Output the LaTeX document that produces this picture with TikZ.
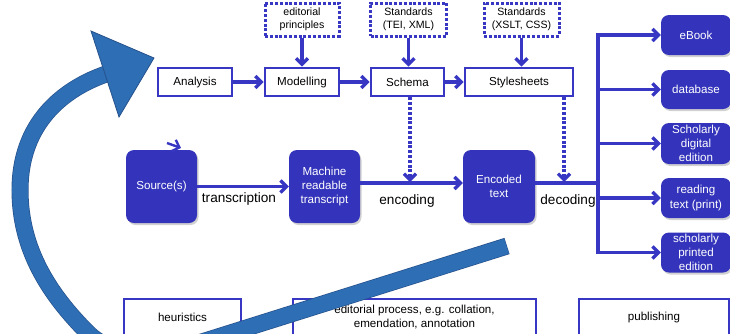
\documentclass[tikz,border=0pt]{standalone}
\usepackage{fontspec}
\setmainfont{Liberation Sans}
\usetikzlibrary{arrows.meta,shadows}
\definecolor{boxblue}{RGB}{51,51,187}
\definecolor{lineblue}{RGB}{55,55,195}
\definecolor{bigblue}{RGB}{46,110,181}
\definecolor{bigedge}{RGB}{38,82,140}
\begin{document}
\begin{tikzpicture}[x=1pt,y=-1pt,
  wbox/.style={draw=lineblue, line width=2.8pt, fill=white, inner sep=0pt, align=center,
    font=\fontsize{11.6}{13.5}\selectfont},
  dbox/.style={draw=lineblue, line width=3pt, dash pattern=on 3pt off 1.8pt, fill=white,
    inner sep=0pt, align=center, font=\fontsize{10.6}{12.5}\selectfont},
  bbox/.style={fill=boxblue, rounded corners=8pt, inner sep=0pt, align=center, text=white,
    font=\fontsize{11.6}{14.2}\selectfont,
    drop shadow={shadow xshift=1.5pt, shadow yshift=-2pt, fill=gray!60, opacity=0.6}},
  conn/.style={draw=lineblue, line width=3.3pt, -{Straight Barb[length=6pt,width=12pt]}},
  dconn/.style={conn, dash pattern=on 3pt off 1.8pt},
  plain/.style={draw=lineblue, line width=3.3pt},
  lbl/.style={inner sep=0pt, font=\fontsize{13.6}{16}\selectfont}]
\useasboundingbox (0,0) rectangle (730,333);

% top row
\node[wbox, minimum width=74pt, minimum height=28pt] (analysis) at (195,82) {Analysis};
\node[wbox, minimum width=74pt, minimum height=28pt] (modelling) at (302,82) {Modelling};
\node[wbox, minimum width=73pt, minimum height=28pt] (schema) at (407.5,82) {Schema};
\node[wbox, minimum width=108pt, minimum height=28pt] (style) at (519,82) {Stylesheets};

\node[dbox, minimum width=74pt, minimum height=33pt] (edp) at (302,19.5) {editorial\\principles};
\node[dbox, minimum width=76pt, minimum height=33pt] (stdtei) at (408.5,19.5) {Standards\\(TEI, XML)};
\node[dbox, minimum width=75pt, minimum height=33pt] (stdxslt) at (521.5,19.5) {Standards\\(XSLT, CSS)};

% middle row
\node[bbox, minimum width=71pt, minimum height=73pt] (source) at (161.5,186.5) {Source(s)};
\node[bbox, minimum width=71pt, minimum height=73pt] (machine) at (324.5,186.5) {Machine\\readable\\transcript};
\node[bbox, minimum width=72pt, minimum height=73pt] (encoded) at (499,186.5) {Encoded\\text};

% right column
\node[bbox, minimum width=70pt, minimum height=40pt] (ebook) at (696,35) {eBook};
\node[bbox, minimum width=70pt, minimum height=39pt] (database) at (696,89.5) {database};
\node[bbox, minimum width=70pt, minimum height=41pt] (sde) at (696,143.5) {Scholarly\\digital\\edition};
\node[bbox, minimum width=70pt, minimum height=40pt] (reading) at (696,198) {reading\\text (print)};
\node[bbox, minimum width=70pt, minimum height=40pt] (printed) at (696,252.5) {scholarly\\printed\\edition};

% bottom row
\node[wbox, minimum width=117pt, minimum height=36pt] (heur) at (182.5,317) {heuristics};
\node[wbox, minimum width=243pt, minimum height=36pt] (edproc) at (414.5,317) {editorial process, e.g. collation,\\emendation, annotation};
\node[wbox, minimum width=150pt, minimum height=36pt] (pub) at (654,317) {publishing};

% connectors top
\draw[conn] (analysis.east) -- (modelling.west);
\draw[conn] (modelling.east) -- (schema.west);
\draw[conn] (schema.east) -- (style.west);
\draw[conn] (edp.south) -- (modelling.north);
\draw[conn] (stdtei.south) -- (stdtei.south |- schema.north);
\draw[conn] (stdxslt.south) -- (stdxslt.south |- style.north);

% middle connectors
\draw[conn] (source.east) -- (machine.west);
\draw[conn] ([yshift=3.5pt]machine.east) -- ([yshift=3.5pt]encoded.west);
\coordinate (bus) at (598,183);
\draw[plain] ([yshift=3.5pt]encoded.east) -- (bus);
\foreach \n in {ebook,database,sde,reading,printed}
  \draw[conn] (bus) |- (\n.west);

\coordinate (schemadrop) at (410,182);
\coordinate (styledrop) at (564,182);
\draw[dconn] (schema.south -| schemadrop) -- (schemadrop);
\draw[dconn] (style.south -| styledrop) -- (styledrop);

% small arrow above source
\coordinate (sa) at (167,143);
\coordinate (sb) at (181,148);
\draw[conn, line width=2.4pt] (sa) -- (sb);

% labels
\node[lbl] (ltrans) at (239,199) {transcription};
\node[lbl] (lenc) at (407,201) {encoding};
\node[lbl] (ldec) at (568,201) {decoding};

% big curved arrow
\path[draw=bigedge, line width=17pt]
  (507,246) -- (205,341) .. controls (150,358) and (110,355) .. (88,333)
  .. controls (50,295) and (20,250) .. (20,190)
  .. controls (20,130) and (55,92) .. (106,74);
\path[draw=bigblue, line width=15.6pt]
  (506.5,246.2) -- (205,341) .. controls (150,358) and (110,355) .. (88,333)
  .. controls (50,295) and (20,250) .. (20,190)
  .. controls (20,130) and (55,92) .. (106,74);
\path[fill=bigblue, draw=bigedge, line width=0.8pt] (91,31) -- (154,58) -- (119,117) -- cycle;
\end{tikzpicture}
\end{document}
